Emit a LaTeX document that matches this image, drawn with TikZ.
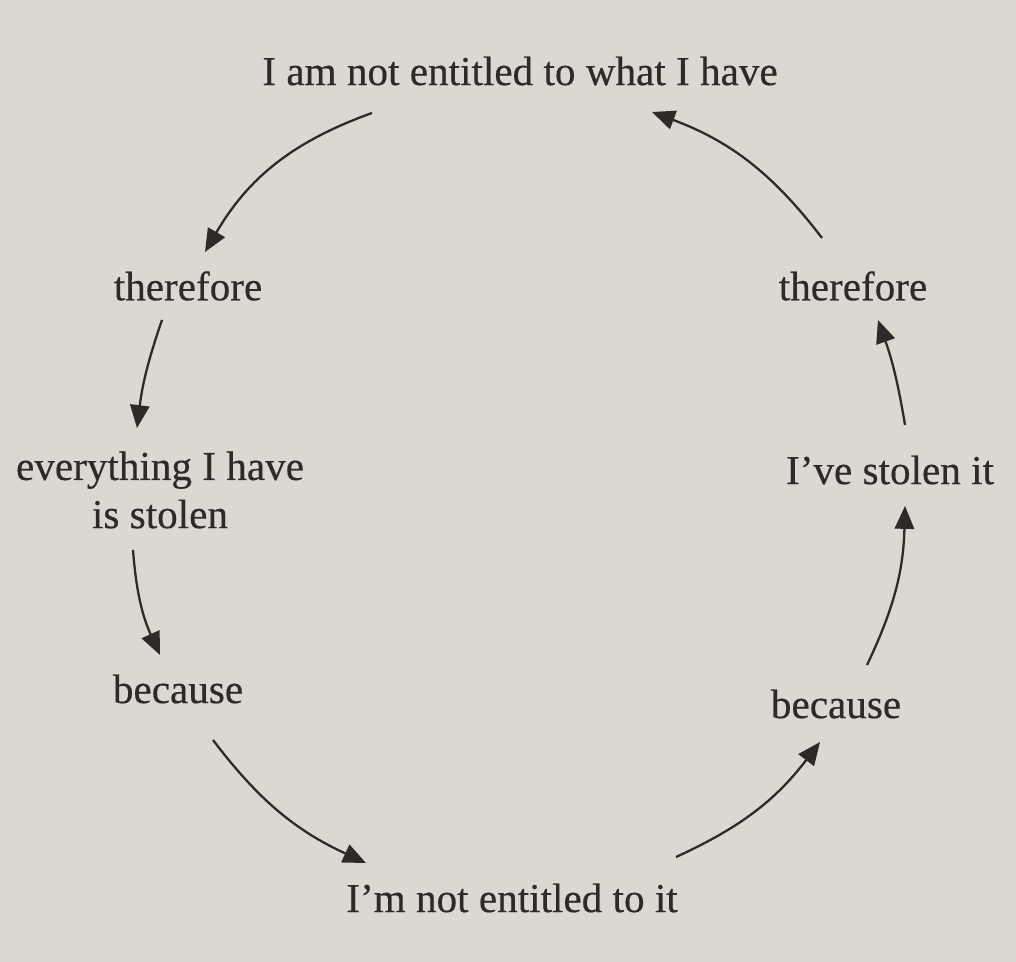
\documentclass[tikz,border=0pt]{standalone}
\usepackage{fontspec}
\setmainfont{Liberation Serif}
\newfontfamily\inkfont{Liberation Serif}[FakeBold=0.4]
\usetikzlibrary{arrows.meta, positioning}
\definecolor{paper}{RGB}{219,216,209}
\definecolor{ink}{RGB}{45,43,42}

\begin{document}
\begin{tikzpicture}[
    x=0.01cm, y=-0.01cm,
    phrase/.style={inner sep=0pt, text=ink, align=center, font=\inkfont\fontsize{11.7}{13.7}\selectfont},
    flow/.style={draw=ink, line width=0.65pt, -{Triangle[length=6.5pt, width=5.5pt]}}
]
    % Paper
    \fill[paper] (0,0) rectangle (1016,962);
    \useasboundingbox (0,0) rectangle (1016,962);

    % Phrases
    \node[phrase] (top) at (520,71) {I am not entitled to what I have};
    \node[phrase] (thL) at (188,286) {therefore};
    \node[phrase] (evL) at (160,490) {everything I have\\is stolen};
    \node[phrase] (becL) at (178,689) {because};
    \node[phrase] (bot) at (512,898) {I’m not entitled to it};
    \node[phrase] (becR) at (836,704) {because};
    \node[phrase] (stol) at (890,470) {I’ve stolen it};
    \node[phrase] (thR) at (853,286) {therefore};

    % Arrows
    \draw[flow] ([shift={(-148,42)}]top.center) to[bend right=20] ([shift={(17,-34)}]thL.center);
    \draw[flow] ([shift={(-26,34)}]thL.center) to[bend right=6] ([shift={(-23,-62)}]evL.center);
    \draw[flow] ([shift={(-27,60)}]evL.center) to[bend right=10] ([shift={(-18,-34)}]becL.center);
    \draw[flow] ([shift={(35,51)}]becL.center) to[bend right=14] ([shift={(-146,-35)}]bot.center);
    \draw[flow] ([shift={(164,-41)}]bot.center) to[bend right=14] ([shift={(-16,38)}]becR.center);
    \draw[flow] ([shift={(31,-39)}]becR.center) to[bend right=12] ([shift={(15,36)}]stol.center);
    \draw[flow] ([shift={(15,-45)}]stol.center) to[bend right=5] ([shift={(25,34)}]thR.center);
    \draw[flow] ([shift={(-31,-48)}]thR.center) to[bend right=16] ([shift={(132,41)}]top.center);
\end{tikzpicture}
\end{document}
